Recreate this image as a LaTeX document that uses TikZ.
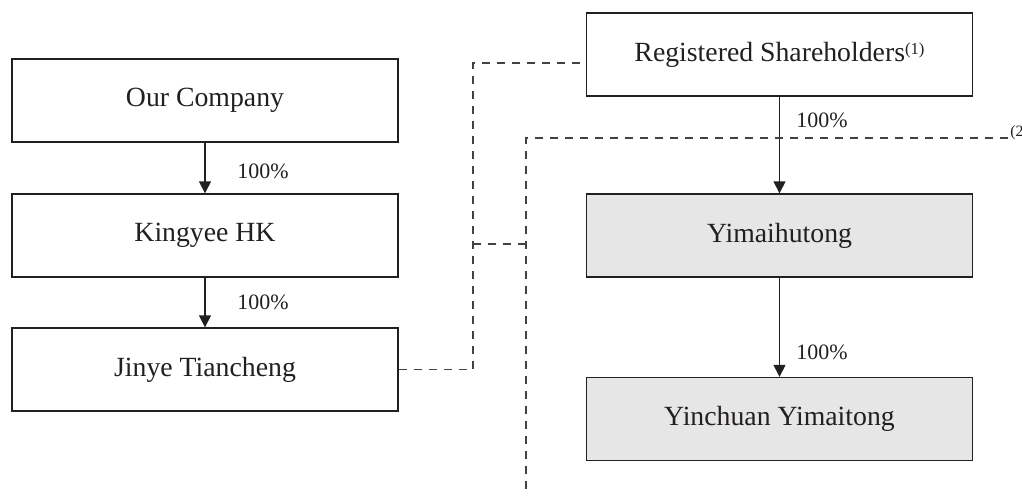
\documentclass[tikz,border=0pt]{standalone}
\usepackage{fontspec}
\setmainfont{Liberation Serif}
\usetikzlibrary{arrows.meta, positioning}
\definecolor{inkline}{HTML}{231F20}
\definecolor{boxgray}{HTML}{E6E6E6}

\begin{document}
\begin{tikzpicture}[
            x=0.02cm, y=-0.02cm,
            ebox/.style={draw=inkline, line width=0.8pt, minimum width=7.72cm, minimum height=1.66cm, inner sep=0pt, font=\fontsize{15.8}{19}\selectfont, text=inkline},
            gbox/.style={ebox, fill=boxgray},
            arrow/.style={-{Triangle[length=0.24cm, width=0.24cm]}, draw=inkline, line width=0.8pt},
            dline/.style={draw=inkline!85, line width=0.75pt, dash pattern=on 0.16cm off 0.14cm},
            pct/.style={anchor=west, font=\fontsize{12.5}{15}\selectfont, text=inkline, inner sep=0pt}
        ]
        \useasboundingbox (0,0) rectangle (1022,495);

        % --- left chain: Our Company -> Kingyee HK -> Jinye Tiancheng ---
        \node[ebox] (OC) at (205, 100.5) {Our Company};
        \node[ebox] (KH) at (205, 235.5) {Kingyee HK};
        \node[ebox] (JT) at (205, 369.5) {Jinye Tiancheng};
        \draw[arrow] (OC)--(KH);
        \draw[arrow] (KH)--(JT);
        \node[pct] (p1) at (237, 171) {100\%};
        \node[pct] (p2) at (237, 302) {100\%};

        % --- right chain: Registered Shareholders -> Yimaihutong -> Yinchuan Yimaitong ---
        \node[ebox] (RS) at (779.5, 54.5) {Registered Shareholders\raisebox{0.55ex}{\fontsize{9.5}{11}\selectfont(1)}};
        \node[gbox] (YH) at (779.5, 235.5) {Yimaihutong};
        \node[gbox] (YY) at (779.5, 419) {Yinchuan Yimaitong};
        \draw[arrow] (RS)--(YH);
        \draw[arrow] (YH)--(YY);
        \node[pct] (p3) at (796, 120) {100\%};
        \node[pct] (p4) at (796, 352) {100\%};

        % --- dashed links ---
        \coordinate (d1) at (473, 63);
        \coordinate (j1) at (473, 244);
        \coordinate (j2) at (526, 244);
        \coordinate (n2) at (1008, 138);
        \coordinate (b2) at (526, 493);
        \draw[dline] (JT.east) -| (d1) -- (d1 -| RS.west);
        \draw[dline] (j1) -- (j2);
        \draw[dline] (n2) -| (b2);
        \node[anchor=base west, inner sep=0pt, font=\fontsize{9}{11}\selectfont, text=inkline] (fn2) at (1010, 136) {(2};
        \end{tikzpicture}
\end{document}
